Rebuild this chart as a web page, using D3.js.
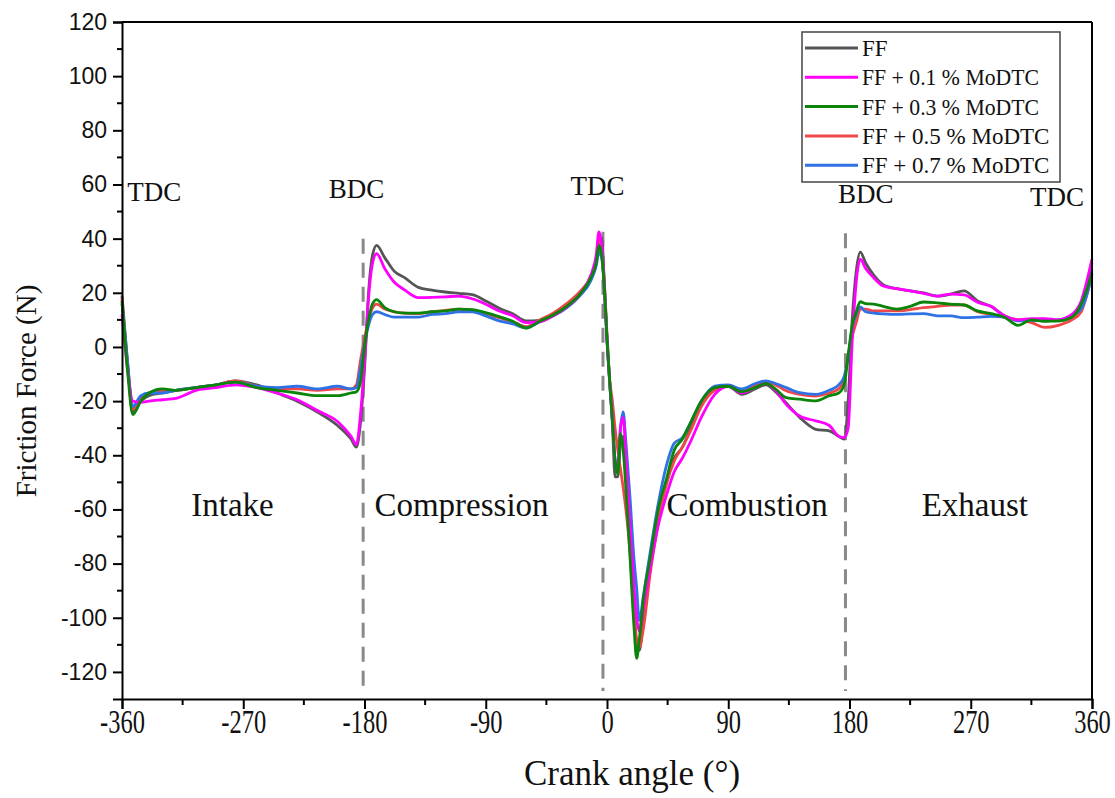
<!DOCTYPE html>
<html><head><meta charset="utf-8">
<script src="https://cdn.jsdelivr.net/npm/d3@7"></script>
<style>body{margin:0;background:#fff;} svg{display:block;}</style>
</head><body><svg id="c" width="1115" height="798"></svg>
<script>
const angles = [-360,-356,-352,-346,-340,-330,-320,-305,-290,-276,-260,-245,-230,-215,-200,-190,-186,-183,-180,-177,-174,-171,-165,-158,-150,-140,-130,-120,-110,-100,-90,-80,-70,-60,-50,-40,-30,-20,-12,-8,-6,-4,-2,0,2,4,6,8,10,12,14,17,20,22,24,27,32,38,44,50,56,62,70,80,90,100,110,118,125,133,143,155,165,172,176,179,182,185,188,192,198,205,215,225,235,245,255,265,275,285,295,305,315,325,335,345,352,356,360];

const ff = [19,-5,-24,-20,-18,-17,-16,-15,-14,-12.5,
 -14,-17,-20,-24,-29,-34,-37,-28,-8,20,
 34,37.5,33,28,25.5,22,21,20.3,19.8,19.3,
 17,14.3,12.3,9.6,9.8,11.5,14.5,19.5,26,32,
 38,40.5,24,3,-13,-28,-48,-48,-36,-33,
 -45,-70,-95,-110,-112,-100,-80,-63,-50,-41,
 -37,-30,-21,-15.5,-14.5,-17.5,-15.5,-14,-16.5,-20.7,
 -26,-30.4,-31,-33,-34,-20,10,28,35,31,
 26.5,23,21.5,20.7,20,18.8,19.5,20.7,17,15,
 11.5,10,9.8,9.8,9.6,11.5,15,22,31];

const mo01 = [12,-8,-20,-20.5,-20,-19.5,-19,-16,-15,-14,
 -15,-17,-19.5,-23.5,-27.5,-33,-36,-25,-6,18,
 31,34.5,29,24,21,18.2,18.3,18.5,18.8,17.8,
 15.8,13.3,11.5,9,9.3,11.5,14.8,19.5,26.5,34,
 42.5,38,22,2,-13,-27,-42,-45,-30,-26,
 -40,-65,-88,-100,-105,-96,-82,-66,-55,-46,
 -41,-35,-26,-17.5,-14.5,-17,-15,-13.5,-16,-21.2,
 -25.5,-27.3,-29,-33,-33.5,-30,2,24,32.4,29,
 25.5,22.5,21.5,20.7,19.8,18.8,19.5,19.2,16.5,15,
 11.5,10,10.5,10.5,10,12,17,24,32.5];

const mo03 = [17,-8,-25,-20,-17,-15.5,-16,-15,-14,-13,
 -15,-16,-17,-18,-18,-17,-16.5,-13,0,10,
 16,17.5,14.5,13,12.5,12.5,13,13.3,14,13.8,
 12.7,11.2,9.5,7,9.5,11.8,15,19.5,25.5,31,
 37.5,34,22,3,-13,-27,-42,-47,-32,-38,
 -52,-77,-103,-115,-108,-93,-78,-60,-49,-38,
 -34,-28,-20,-15,-14.5,-16.5,-15,-13.5,-15.5,-18.7,
 -19.3,-19.9,-18,-17,-14,-3,8,13,16.7,16,
 15.8,15,14,15,16.6,16.3,15.8,15.5,13.3,12.3,
 11,8,10,9.5,9.6,11,15.8,21,27];

const mo05 = [18,-6,-23,-19,-17,-16,-16,-15,-14,-12.5,
 -14.5,-15.5,-15.5,-16,-15.5,-15.5,-14,-5,3,10,
 14.5,15.8,14,13,12.5,12.3,13,13.5,14,13.5,
 12.3,10.8,9.3,7.5,10,12.5,16,20.5,26,32,
 40,36,24,5,-12,-20,-30,-38,-45,-52,
 -60,-75,-97,-108,-111,-104,-84,-65,-51,-42,
 -37,-31,-22,-16,-14.5,-16,-14,-13,-14,-16.2,
 -17.5,-18.1,-17,-15.5,-12,-3,4,9,14,14,
 13.3,13.3,13.3,13.8,14.5,15,15.5,15.5,13,12,
 11,10,9,7.2,8,10,13,19,26];

const mo07 = [16,-5,-22,-18,-17,-17,-16,-15,-14,-13,
 -14.5,-15,-14.5,-15.5,-14.5,-15.5,-15,-8,1,8,
 12,13,12,11,11,11,12,12.3,13,13,
 11.5,9.6,8.5,7.1,9.2,11.5,14.5,19,24.5,30,
 35,33,22,3,-13,-27,-42,-46,-30,-24,
 -35,-55,-78,-89,-101,-92,-76,-58,-44,-35.5,
 -33.5,-28,-20,-14.5,-14,-15.5,-13.5,-12.5,-13.5,-15,
 -16.9,-17.5,-16,-14,-11,-4,7,12,14.8,13,
 12.5,12.2,12,12.2,12.3,11.5,11.5,10.8,11,11.3,
 11,9.6,9.8,9.6,10,11.5,14,19,27];

const seriesNames = ["FF","FF + 0.1 % MoDTC","FF + 0.3 % MoDTC","FF + 0.5 % MoDTC","FF + 0.7 % MoDTC"];
const seriesColors = ["#555555","#ff00ff","#0a850a","#f04848","#2e72e6"];
const seriesValues = [ff, mo01, mo03, mo05, mo07];
const drawOrder = [0,3,4,1,2];

const xTicks = [-360,-270,-180,-90,0,90,180,270,360];
const yTicks = [-120,-100,-80,-60,-40,-20,0,20,40,60,80,100,120];
const markerAngles = [-181,-3,177];
const deadCenters = [{t:"TDC",a:-336},{t:"BDC",a:-186},{t:"TDC",a:-7},{t:"BDC",a:192},{t:"TDC",a:334}];
const deadCenterY = [54,55,56,53,52];
const phases = [{t:"Intake",a:-278},{t:"Compression",a:-108},{t:"Combustion",a:104},{t:"Exhaust",a:273}];

const svg = d3.select("#c");
const L=122,R=1092,T=22,B=699;
const x = d3.scaleLinear().domain([-360,360]).range([L,R]);
const y = d3.scaleLinear().domain([-130,120]).range([B,T]);
const fmt = d => String(d);

// dashed marker lines
svg.selectAll(".mk").data(markerAngles).enter().append("line")
  .attr("x1",d=>x(d)).attr("x2",d=>x(d)).attr("y1",(d,i)=>y([40,42.5,42][i])).attr("y2",y(-127))
  .attr("stroke","#8a8a8a").attr("stroke-width",3).attr("stroke-dasharray","15,9");

// series
const line = d3.line().x(d=>x(d[0])).y(d=>y(d[1])).curve(d3.curveMonotoneX);
drawOrder.forEach(i=>{
  svg.append("path").datum(angles.map((a,k)=>[a,seriesValues[i][k]]))
    .attr("d",line).attr("fill","none").attr("stroke",seriesColors[i])
    .attr("stroke-width",2.8).attr("stroke-linejoin","round");
});

// axes
const xAxis = d3.axisBottom(x).tickValues(xTicks).tickSize(10).tickFormat(fmt);
const gx = svg.append("g").attr("transform",`translate(0,${B})`).call(xAxis);
gx.select(".domain").attr("stroke-width",2);
gx.selectAll(".tick line").attr("stroke-width",2);
gx.selectAll(".tick text").attr("font-family","Liberation Serif").attr("font-size",34)
  .attr("fill","#111").attr("y",0).attr("dy",0)
  .attr("transform","translate(0,34) scale(0.72,1)");
const xMinor = d3.range(-315,360,90);
svg.append("g").selectAll("line").data(xMinor).enter().append("line")
  .attr("x1",d=>x(d)).attr("x2",d=>x(d)).attr("y1",B).attr("y2",B+6).attr("stroke","#000").attr("stroke-width",2);

const yAxis = d3.axisLeft(y).tickValues(yTicks).tickSize(9).tickPadding(6).tickFormat(fmt);
const gy = svg.append("g").attr("transform",`translate(${L},0)`).call(yAxis);
gy.select(".domain").attr("stroke-width",2);
gy.selectAll(".tick line").attr("stroke-width",2);
gy.selectAll(".tick text").attr("font-family","Liberation Sans").attr("font-size",23).attr("fill","#111");
const yMinor = d3.range(-110,120,20);
svg.append("g").selectAll("line").data(yMinor).enter().append("line")
  .attr("x1",L-5).attr("x2",L).attr("y1",d=>y(d)).attr("y2",d=>y(d)).attr("stroke","#000").attr("stroke-width",2);

// frame top/right
svg.append("line").attr("x1",L).attr("x2",R).attr("y1",T).attr("y2",T).attr("stroke","#000").attr("stroke-width",2);
svg.append("line").attr("x1",R).attr("x2",R).attr("y1",T).attr("y2",B).attr("stroke","#000").attr("stroke-width",2);

// axis titles
svg.append("text").attr("x",632).attr("y",785).attr("text-anchor","middle")
  .attr("font-family","Liberation Serif").attr("font-size",35).attr("fill","#111").text("Crank angle (°)");
svg.append("text").attr("transform","translate(36,391) rotate(-90)").attr("text-anchor","middle")
  .attr("font-family","Liberation Serif").attr("font-size",29).attr("fill","#111").text("Friction Force (N)");

// annotations
svg.selectAll(".dc").data(deadCenters).enter().append("text")
  .attr("x",d=>x(d.a)).attr("y",(d,i)=>y(deadCenterY[i])).attr("text-anchor","middle")
  .attr("font-family","Liberation Serif").attr("font-size",27).attr("fill","#111").text(d=>d.t);
svg.selectAll(".ph").data(phases).enter().append("text")
  .attr("x",d=>x(d.a)).attr("y",y(-62.5)).attr("text-anchor","middle")
  .attr("font-family","Liberation Serif").attr("font-size",33).attr("fill","#111").text(d=>d.t);

// legend
const lg = svg.append("g");
lg.append("rect").attr("x",802).attr("y",32).attr("width",258).attr("height",150)
  .attr("fill","#fff").attr("stroke","#444").attr("stroke-width",1.5);
seriesNames.forEach((n,i)=>{
  const yy = 48 + i*29.3;
  lg.append("line").attr("x1",805).attr("x2",858).attr("y1",yy).attr("y2",yy)
    .attr("stroke",seriesColors[i]).attr("stroke-width",3);
  const t = lg.append("text").attr("x",862).attr("y",yy+8).attr("font-family","Liberation Serif")
    .attr("font-size",23).attr("fill","#111").text(n);
  if(i===1||i===2) t.attr("textLength",177).attr("lengthAdjust","spacingAndGlyphs");
});
</script></body></html>
